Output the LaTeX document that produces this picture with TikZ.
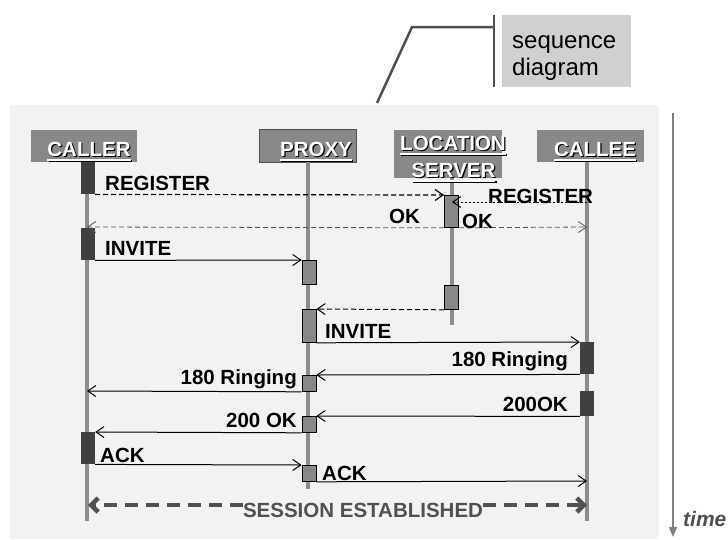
\documentclass[tikz,border=0pt]{standalone}
\usepackage{fontspec}
\setmainfont{Liberation Sans}
\usetikzlibrary{arrows.meta}
\definecolor{bgc}{HTML}{F2F2F2}
\definecolor{hdrc}{HTML}{888888}
\definecolor{lifec}{HTML}{8C8C8C}
\definecolor{darkc}{HTML}{404040}
\definecolor{midc}{HTML}{888888}
\definecolor{calloutc}{HTML}{D0D0D0}
\definecolor{linec}{HTML}{505050}
\definecolor{okc}{HTML}{555555}
\definecolor{timec}{HTML}{808080}
\newcommand\ultext[1]{\setbox0\hbox{#1}\rlap{\rule[-5pt]{\wd0}{1.8pt}}\box0}
\newcommand\hdrtext[1]{\rlap{\kern1.2pt\raisebox{-1.2pt}{\color{black}\ultext{#1}}}{\color{white}\ultext{#1}}}
\newcommand\lblfont{\fontsize{20.5}{24}\selectfont\bfseries}
\begin{document}
\begin{tikzpicture}[x=1pt,y=-1pt,
 hdr/.style={fill=hdrc, inner sep=0},
 hdrlbl/.style={inner sep=0, anchor=base, font=\lblfont},
 act/.style={rectangle, inner sep=0, minimum width=14, anchor=north},
 actd/.style={act, fill=darkc},
 actm/.style={act, fill=midc, draw=black, line width=0.8},
 life/.style={draw=lifec, line width=3.5},
 tip/.style={-{Straight Barb[length=8pt,width=11pt]}},
 msg/.style={tip, draw=black, line width=1},
 dmsg/.style={msg, dash pattern=on 5pt off 3pt},
 omsg/.style={tip, draw=okc, line width=0.8, dash pattern=on 5pt off 3pt},
 pmsg/.style={msg, dash pattern=on 2pt off 2pt},
 lbl/.style={inner sep=0, font=\lblfont},
 sessline/.style={draw=linec, line width=4.5, dash pattern=on 13pt off 8pt, -{Straight Barb[length=7pt,width=14pt]}},
 callline/.style={draw=linec, line width=2.5},
]
\useasboundingbox (0,0) rectangle (728,539);
% background panel
\fill[bgc] (10,105) rectangle (659,539);

% callout
\node[fill=calloutc, minimum width=129, minimum height=72, anchor=north west, inner sep=0] (seq) at (502,15) {};
\node[inner sep=0, anchor=base west, font=\fontsize{24}{27}\selectfont] (seqT1) at (512,48) {sequence};
\node[inner sep=0, anchor=base west, font=\fontsize{24}{27}\selectfont] (seqT2) at (512,75) {diagram};
\coordinate (c1) at (377,103);
\coordinate (c2) at (412,27);
\coordinate (c3) at (494,27);
\coordinate (b1) at (494,15);
\coordinate (b2) at (494,87);
\draw[callline] (c1) -- (c2) -- (c3);
\draw[callline] (b1) -- (b2);

% headers
\node[hdr, minimum width=106, minimum height=32] (caller) at (84,146) {};
\node[hdr, draw=linec, line width=0.8, minimum width=97, minimum height=33] (proxy) at (307.5,145.5) {};
\node[hdr, minimum width=108, minimum height=48] (loc) at (448,154) {};
\node[hdr, minimum width=107, minimum height=32] (callee) at (590.5,146) {};

% lifelines
\coordinate (cEnd) at (87,521);
\coordinate (pEnd) at (308,489);
\coordinate (lEnd) at (452,325);
\coordinate (eEnd) at (587,521);
\draw[life] (cEnd |- caller.south) -- (cEnd);
\draw[life] (pEnd |- proxy.south) -- (pEnd);
\draw[life] (lEnd |- loc.south) -- (lEnd);
\draw[life] (eEnd |- callee.south) -- (eEnd);

% header texts
\node[hdrlbl] (callerT) at (89,156) {\hdrtext{CALLER}};
\node[hdrlbl] (proxyT) at (316,156) {\hdrtext{PROXY}};
\node[hdrlbl] (locT1) at (453,150) {\hdrtext{LOCATION}};
\node[hdrlbl] (locT2) at (453.5,177) {\hdrtext{SERVER}};
\node[hdrlbl] (calleeT) at (595,156) {\hdrtext{CALLEE}};

% activation bars
\node[actd, minimum height=32] (cb1) at (88,162) {};
\node[actd, minimum height=32] (cb2) at (88,228) {};
\node[actd, minimum height=32] (cb3) at (88,432) {};
\node[actm, minimum height=24] (pb1) at (309,260) {};
\node[actm, minimum height=33] (pb2) at (309,309) {};
\node[actm, minimum height=16] (pb3) at (309,375) {};
\node[actm, minimum height=16] (pb4) at (309,416) {};
\node[actm, minimum height=16] (pb5) at (309,465) {};
\node[actm, minimum height=32] (lb1) at (451.5,195) {};
\node[actm, minimum height=24] (lb2) at (451.5,285) {};
\node[actd, minimum height=32] (eb1) at (587,342) {};
\node[actd, minimum height=25] (eb2) at (587,391) {};

% messages
\coordinate (r2s) at (587,202);
\coordinate (r2e) at (452,202);
\coordinate (ok1e) at (87,227);
\coordinate (ok2e) at (587,227);
\coordinate (r180e) at (87,391);
\coordinate (ack2e) at (587,481);
\draw[dmsg, line width=1.2] (cb1.south east) -- (lb1.north west);
\draw[pmsg] (r2s) -- (r2e);
\draw[omsg] (lb1.south west) -- (ok1e);
\draw[omsg] (lb1.south east) -- (ok2e);
\draw[msg] (cb2.south east) -- (pb1.north west);
\draw[dmsg] (lb2.south west) -- (pb2.north east);
\draw[msg] (pb2.south east) -- (eb1.north west);
\draw[msg] (eb1.south west) -- (pb3.north east);
\draw[msg] (pb3.south west) -- (r180e);
\draw[msg] (eb2.south west) -- (pb4.north east);
\draw[msg] (pb4.south west) -- (cb3.north east);
\draw[msg] (cb3.south east) -- (pb5.north west);
\draw[msg] (pb5.south east) -- (ack2e);

% labels
\node[lbl, anchor=base west] (lRegA) at (105,190) {REGISTER};
\node[lbl, anchor=base west] (lRegB) at (488,203) {REGISTER};
\node[lbl, anchor=base west] (lOkA) at (389,223) {OK};
\node[lbl, anchor=base west] (lOkB) at (462,228) {OK};
\node[lbl, anchor=base west] (lInvA) at (105,255) {INVITE};
\node[lbl, anchor=base west] (lInvB) at (325,338) {INVITE};
\node[lbl, anchor=base east] (lRingB) at (568,366) {180 Ringing};
\node[lbl, anchor=base east] (lRingA) at (297,384) {180 Ringing};
\node[lbl, anchor=base east] (l200B) at (568,411) {200OK};
\node[lbl, anchor=base east] (l200A) at (297,427) {200 OK};
\node[lbl, anchor=base west] (lAckA) at (100,462) {ACK};
\node[lbl, anchor=base west] (lAckB) at (322,480) {ACK};

% session established
\coordinate (s1) at (88,505);
\coordinate (s2) at (587,505);
\node[lbl, anchor=base, text=linec] (sessT) at (363,517) {SESSION ESTABLISHED};
\draw[sessline] (sessT.west |- s1) -- (s1);
\draw[sessline] (sessT.east |- s2) -- (s2);

% time axis
\coordinate (t1) at (673,113);
\coordinate (t2) at (673,537);
\draw[draw=timec, line width=1.5, -{Triangle[length=10pt,width=8pt]}] (t1) -- (t2);
\node[inner sep=0, anchor=base west, text=linec, font=\fontsize{21}{24}\selectfont\bfseries\itshape] (timeL) at (683,526) {time};
\end{tikzpicture}
\end{document}
